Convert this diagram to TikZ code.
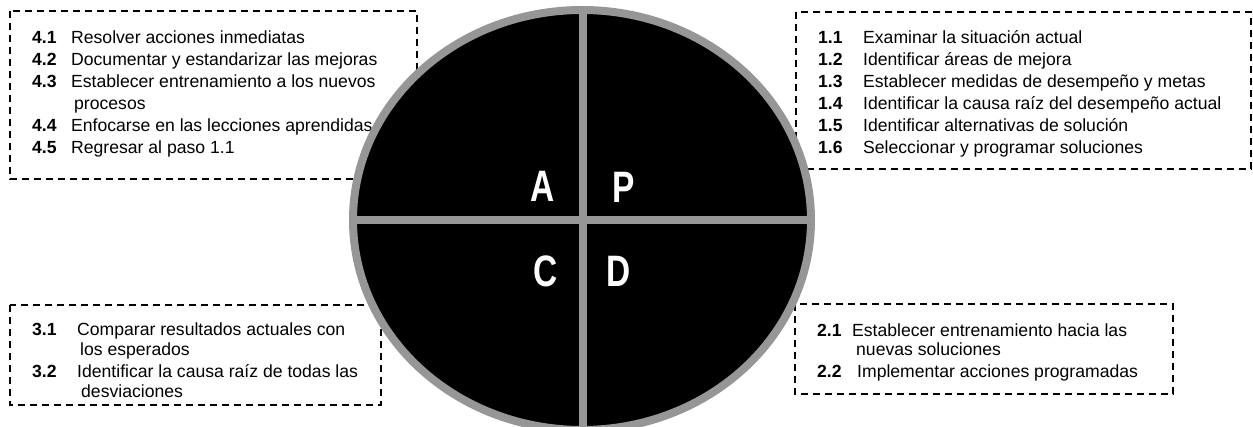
\documentclass[tikz,border=0pt]{standalone}
\usepackage{fontspec}
\setmainfont{Liberation Sans}
\definecolor{ringgray}{RGB}{150,150,150}
\begin{document}
\begin{tikzpicture}[x=1pt,y=-1pt,
  dashbox/.style={draw=black,line width=1.4pt,dash pattern=on 7pt off 5pt},
  txt/.style={anchor=base west,inner sep=0pt,font=\fontsize{17.6}{20}\selectfont},
  num/.style={anchor=base west,inner sep=0pt,font=\fontsize{17.6}{20}\selectfont\bfseries},
  letter/.style={text=white,inner sep=0pt,font=\fontsize{44}{46}\selectfont\bfseries,xscale=0.76},
  divider/.style={draw=ringgray,line width=8pt}]
\useasboundingbox (0,0) rectangle (1253,427);
% dashed boxes
\draw[dashbox] (10,11) rectangle (417,179);
\draw[dashbox] (796,12) rectangle (1251,169);
\draw[dashbox] (10,305) rectangle (381,405);
\draw[dashbox] (795,304) rectangle (1173,394);
% box 4 (top left)
\node[num] (n41) at (32,43.5) {4.1};
\node[txt] (t41) at (71,43.5) {Resolver acciones inmediatas};
\node[num] (n42) at (32,65.5) {4.2};
\node[txt] (t42) at (71,65.5) {Documentar y estandarizar las mejoras};
\node[num] (n43) at (32,87.5) {4.3};
\node[txt] (t43) at (71,87.5) {Establecer entrenamiento a los nuevos};
\node[txt] (t43b) at (74,109.5) {procesos};
\node[num] (n44) at (32,131.5) {4.4};
\node[txt] (t44) at (71,131.5) {Enfocarse en las lecciones aprendidas};
\node[num] (n45) at (32,153.5) {4.5};
\node[txt] (t45) at (71,153.5) {Regresar al paso 1.1};
% box 1 (top right)
\node[num] (n11) at (818,44) {1.1};
\node[txt] (t11) at (863,44) {Examinar la situación actual};
\node[num] (n12) at (818,66) {1.2};
\node[txt] (t12) at (863,66) {Identificar áreas de mejora};
\node[num] (n13) at (818,88) {1.3};
\node[txt] (t13) at (863,88) {Establecer medidas de desempeño y metas};
\node[num] (n14) at (818,110) {1.4};
\node[txt] (t14) at (863,110) {Identificar la causa raíz del desempeño actual};
\node[num] (n15) at (818,132) {1.5};
\node[txt] (t15) at (863,132) {Identificar alternativas de solución};
\node[num] (n16) at (818,154) {1.6};
\node[txt] (t16) at (863,154) {Seleccionar y programar soluciones};
% box 3 (bottom left)
\node[num] (n31) at (32,336) {3.1};
\node[txt] (t31) at (77,336) {Comparar resultados actuales con};
\node[txt] (t31b) at (80,356) {los esperados};
\node[num] (n32) at (32,378) {3.2};
\node[txt] (t32) at (77,378) {Identificar la causa raíz de todas las};
\node[txt] (t32b) at (81,398) {desviaciones};
% box 2 (bottom right)
\node[num] (n21) at (817,337) {2.1};
\node[txt] (t21) at (852,337) {Establecer entrenamiento hacia las};
\node[txt] (t21b) at (856,356) {nuevas soluciones};
\node[num] (n22) at (817,378) {2.2};
\node[txt] (t22) at (857,378) {Implementar acciones programadas};
% PDCA ellipse
\fill[black] (582,220) ellipse [x radius=229pt, y radius=210pt];
\draw[divider] (353,220) -- (811,220);
\draw[divider] (583,10) -- (583,432);
\draw[draw=ringgray,line width=8pt] (582,220) ellipse [x radius=229pt, y radius=210pt];
% letters
\node[letter] (lA) at (543,186) {A};
\node[letter] (lP) at (624,187) {P};
\node[letter] (lC) at (546,271) {C};
\node[letter] (lD) at (619,271) {D};
\end{tikzpicture}
\end{document}
